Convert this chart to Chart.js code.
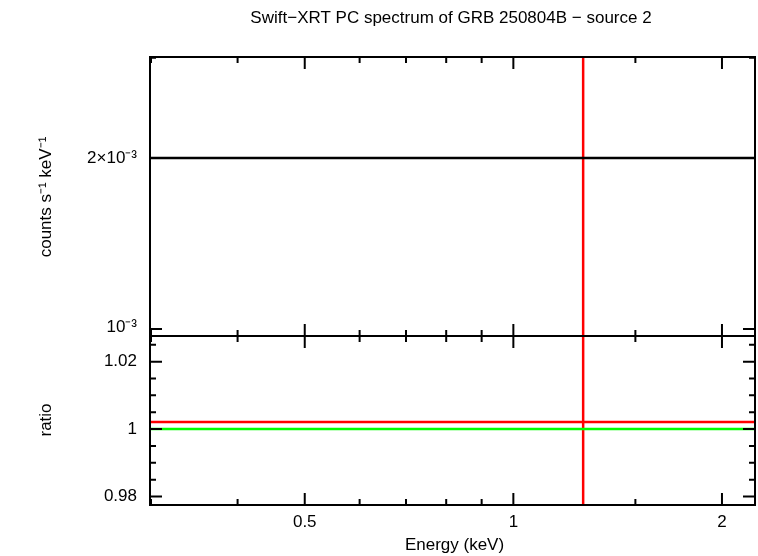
<!DOCTYPE html>
<html><head><meta charset="utf-8">
<script src="https://cdn.jsdelivr.net/npm/chart.js@4/dist/chart.umd.min.js"></script>
<style>body{margin:0;background:#fff}#c{display:block}</style>
</head><body>
<canvas id="c" width="758" height="556"></canvas>
<script>
// energy range (keV) and fitted points
var energyRange = [0.299, 2.232];
var countsRange = [9.72e-4, 3.01e-3];
var ratioRange = [0.9775, 1.0276];
var dataEnergy = 1.261;      // keV, centre of the single bin
var dataCounts = 2e-3;       // counts s^-1 keV^-1
var dataRatio = 1.0021;
var modelRatio = 1.0;
var xTickLabels = [0.5, 1, 2];
var xMinor = [0.3, 0.4, 0.6, 0.7, 0.8, 0.9, 1.5];
var countTicks = [1e-3, 2e-3];
var countMinor = [3e-3];
var ratioTicks = [0.98, 1, 1.02];
var ratioMinor = [0.985, 0.99, 0.995, 1.005, 1.01, 1.015, 1.025];

var FONT = '"Liberation Sans", Arial, sans-serif';

var frame = {
  id: 'frame',
  afterDraw: function(chart) {
    var ctx = chart.ctx, x = chart.scales.x, y = chart.scales.y, r = chart.scales.yr;
    var L = x.left, R = x.right;
    ctx.save();
    ctx.strokeStyle = '#000';
    ctx.lineWidth = 2;
    ctx.strokeRect(L, y.top, R - L, y.bottom - y.top);
    ctx.strokeRect(L, r.top, R - L, r.bottom - r.top);
    function hticks(scale, vals, len) {
      vals.forEach(function(v) {
        var p = scale.getPixelForValue(v);
        ctx.beginPath();
        ctx.moveTo(L, p); ctx.lineTo(L + len, p);
        ctx.moveTo(R, p); ctx.lineTo(R - len, p);
        ctx.stroke();
      });
    }
    function vticks(vals, len) {
      vals.forEach(function(v) {
        var p = x.getPixelForValue(v);
        [y, r].forEach(function(s) {
          ctx.beginPath();
          ctx.moveTo(p, s.top); ctx.lineTo(p, s.top + len);
          ctx.moveTo(p, s.bottom); ctx.lineTo(p, s.bottom - len);
          ctx.stroke();
        });
      });
    }
    hticks(y, countTicks, 12); hticks(y, countMinor, 6);
    hticks(r, ratioTicks, 12); hticks(r, ratioMinor, 6);
    vticks(xTickLabels, 12); vticks(xMinor, 6);

    ctx.fillStyle = '#000';
    ctx.font = '17px ' + FONT;
    ctx.textAlign = 'center'; ctx.textBaseline = 'middle';
    xTickLabels.forEach(function(v) { ctx.fillText(String(v), x.getPixelForValue(v), 522); });
    ctx.fillText('Energy (keV)', (L + R) / 2 + 2, 545);
    ctx.fillText('Swift\u2212XRT PC spectrum of GRB 250804B \u2212 source 2', 451, 18);
    ctx.textAlign = 'right';
    ratioTicks.forEach(function(v) { ctx.fillText(String(v), 137, r.getPixelForValue(v)); });
    ctx.fillText('2\u00d710\u207b\u00b3', 137, y.getPixelForValue(2e-3));
    ctx.fillText('10\u207b\u00b3', 137, y.getPixelForValue(1e-3) - 2);
    ctx.textAlign = 'center';
    ctx.translate(46, 197); ctx.rotate(-Math.PI / 2);
    ctx.fillText('counts s\u207b\u00b9 keV\u207b\u00b9', 0, 0);
    ctx.rotate(Math.PI / 2); ctx.translate(0, 223); ctx.rotate(-Math.PI / 2);
    ctx.fillText('ratio', 0, 0);
    ctx.restore();
  }
};

function line(pts, color, axis) {
  return { data: pts, borderColor: color, borderWidth: 2.5, showLine: true,
           pointRadius: 0, yAxisID: axis, tension: 0 };
}

new Chart(document.getElementById('c'), {
  type: 'scatter',
  data: { datasets: [
    line([{x: energyRange[0], y: dataCounts}, {x: energyRange[1], y: dataCounts}], '#000', 'y'),
    line([{x: dataEnergy, y: countsRange[0]}, {x: dataEnergy, y: countsRange[1]}], '#f00', 'y'),
    line([{x: energyRange[0], y: modelRatio}, {x: energyRange[1], y: modelRatio}], '#0f0', 'yr'),
    line([{x: energyRange[0], y: dataRatio}, {x: energyRange[1], y: dataRatio}], '#f00', 'yr'),
    line([{x: dataEnergy, y: ratioRange[0]}, {x: dataEnergy, y: ratioRange[1]}], '#f00', 'yr')
  ]},
  options: {
    responsive: false, animation: false,
    layout: { padding: { top: 57, right: 3, left: 0, bottom: 0 } },
    plugins: { legend: { display: false }, tooltip: { enabled: false } },
    scales: {
      x: { type: 'logarithmic', min: energyRange[0], max: energyRange[1],
           grid: { display: false }, border: { display: false }, ticks: { display: false },
           afterFit: function(s) { s.height = 51; } },
      yr: { type: 'linear', min: ratioRange[0], max: ratioRange[1],
           stack: 'v', stackWeight: 169, position: 'left',
           grid: { display: false }, border: { display: false }, ticks: { display: false },
           afterFit: function(s) { s.width = 150; } },
      y: { type: 'logarithmic', min: countsRange[0], max: countsRange[1],
           stack: 'v', stackWeight: 279, position: 'left',
           grid: { display: false }, border: { display: false }, ticks: { display: false },
           afterFit: function(s) { s.width = 150; } }
    }
  },
  plugins: [frame]
});
</script>
</body></html>
